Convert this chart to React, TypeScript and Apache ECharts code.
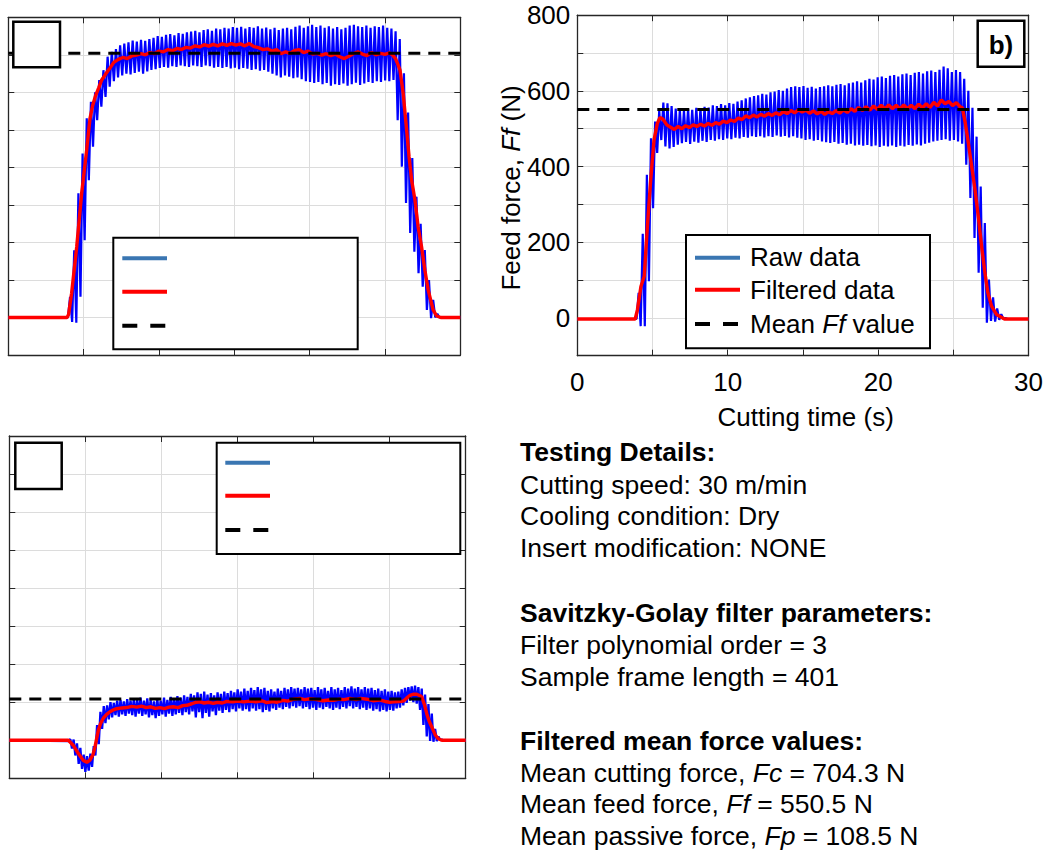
import React, { useEffect, useRef } from 'react';
import * as echarts from 'echarts';

const FONT = '"Liberation Sans", Arial, Helvetica, sans-serif';

// ---------------- Panel a: cutting force Fc ----------------
const fcMean = 704.3;
const fcRawStart = 3.96;
const fcRawPeriod = 0.277;
const fcRawBase = 0;
const fcRawLow = [
  0, -12, -14, 55, 206, 366, 455, 526, 562, 588,
  615, 630, 640, 645, 650, 648, 652, 655, 650, 656,
  660, 662, 665, 668, 666, 670, 668, 672, 670, 668,
  672, 670, 668, 672, 670, 666, 668, 665, 668, 664,
  666, 662, 665, 663, 660, 662, 658, 660, 655, 650,
  645, 640, 645, 642, 638, 640, 635, 630, 628, 625,
  628, 622, 625, 618, 622, 620, 624, 618, 622, 626,
  620, 624, 628, 625, 630, 628, 632, 630, 633, 526,
  402, 305, 225, 175, 118, 82, 20, -2, 0,
];
const fcRawHigh = [
  55, 179, 331, 437, 531, 575, 600, 633, 659, 695,
  708, 715, 725, 730, 733, 738, 735, 740, 737, 742,
  745, 750, 748, 753, 755, 752, 758, 756, 760, 762,
  764, 760, 766, 768, 764, 770, 768, 772, 770, 774,
  772, 775, 770, 774, 772, 776, 770, 773, 768, 772,
  766, 770, 772, 768, 775, 778, 772, 776, 780, 774,
  778, 772, 776, 770, 774, 768, 772, 778, 780, 776,
  774, 778, 772, 776, 774, 778, 772, 770, 763, 742,
  651, 546, 425, 322, 250, 180, 100, 47, 10,
];
const fcFiltered = [
  [0, 0], [3.9, 0], [4.0, 8], [4.2, 64], [4.54, 188], [4.87, 331], [5.2, 446], [5.42, 530],
  [5.6, 565], [5.8, 592], [6.0, 612], [6.2, 633], [6.45, 648], [6.7, 662], [7.0, 680], [7.3, 688],
  [7.6, 693], [7.9, 690], [8.2, 697], [8.5, 699], [8.8, 703], [9.1, 700], [9.4, 706], [9.7, 703],
  [10.0, 710], [10.3, 708], [10.6, 714], [10.9, 711], [11.2, 717], [11.5, 714], [11.8, 720],
  [12.1, 718], [12.4, 724], [12.7, 721], [13.0, 727], [13.3, 723], [13.6, 728], [13.9, 724],
  [14.2, 729], [14.5, 725], [14.8, 730], [15.1, 726], [15.4, 729], [15.7, 724], [16.0, 730],
  [16.3, 722], [16.6, 719], [16.9, 714], [17.2, 716], [17.5, 710], [17.8, 714], [18.1, 703],
  [18.4, 708], [18.7, 704], [19.0, 712], [19.3, 714], [19.6, 706], [19.9, 710], [20.2, 702],
  [20.5, 704], [20.8, 699], [21.1, 703], [21.4, 698], [21.7, 702], [22.0, 695], [22.3, 690],
  [22.6, 696], [22.9, 703], [23.2, 708], [23.5, 702], [23.8, 698], [24.1, 706], [24.4, 700],
  [24.7, 704], [25.0, 701], [25.3, 705], [25.5, 700], [25.7, 690], [25.85, 675], [26.0, 659],
  [26.21, 597], [26.44, 499], [26.6, 428], [26.77, 366], [26.99, 313], [27.2, 242], [27.43, 188],
  [27.65, 126], [27.87, 73], [28.2, 20], [28.43, 4], [28.7, 0], [30, 0],
];

// ---------------- Panel b: feed force Ff ----------------
const ffMean = 550.5;
const ffRawStart = 3.94;
const ffRawPeriod = 0.274;
const ffRawBase = -3;
const ffRawLow = [
  -3, -22, -22, 97, 290, 436, 470, 453, 448, 452,
  458, 462, 465, 460, 466, 463, 468, 465, 470, 468,
  472, 470, 474, 472, 476, 474, 478, 476, 480, 478,
  480, 477, 480, 478, 482, 479, 481, 477, 480, 476,
  474, 470, 472, 468, 470, 466, 464, 462, 465, 460,
  462, 458, 460, 456, 458, 455, 457, 454, 456, 452,
  455, 453, 456, 452, 455, 453, 457, 455, 458, 456,
  460, 463, 466, 468, 470, 472, 468, 470, 466, 460,
  405, 317, 211, 119, 27, -13, -8, -10, -5, -3,
];
const ffRawHigh = [
  66, 222, 378, 475, 519, 548, 569, 567, 560, 553,
  550, 548, 552, 550, 555, 553, 558, 556, 562, 560,
  565, 562, 568, 566, 572, 575, 580, 583, 586, 588,
  592, 590, 596, 598, 602, 600, 606, 610, 612, 610,
  613, 608, 611, 606, 610, 612, 615, 612, 616, 618,
  615, 620, 622, 625, 622, 628, 632, 630, 636, 638,
  634, 640, 642, 638, 644, 646, 642, 648, 650, 646,
  652, 654, 650, 656, 664, 660, 650, 655, 650, 632,
  600, 555, 479, 347, 251, 101, 54, 25, 10, 0,
];
const ffFiltered = [
  [0, -3], [3.85, -3], [4.0, 22], [4.23, 83], [4.45, 110], [4.66, 242], [4.88, 365], [5.1, 470],
  [5.32, 514], [5.5, 530], [5.7, 525], [5.95, 510], [6.2, 504], [6.45, 498], [6.7, 506], [6.95, 500],
  [7.2, 508], [7.45, 503], [7.7, 510], [7.95, 506], [8.2, 512], [8.45, 507], [8.7, 514], [8.95, 509],
  [9.2, 516], [9.45, 512], [9.7, 520], [9.95, 516], [10.2, 523], [10.45, 519], [10.7, 528],
  [10.95, 524], [11.2, 534], [11.45, 529], [11.7, 536], [11.95, 531], [12.2, 538], [12.45, 533],
  [12.7, 540], [12.95, 535], [13.2, 542], [13.45, 537], [13.7, 545], [13.95, 540], [14.2, 548],
  [14.45, 542], [14.7, 550], [14.95, 544], [15.2, 549], [15.45, 541], [15.7, 547], [15.95, 539],
  [16.2, 546], [16.45, 538], [16.7, 545], [16.95, 540], [17.2, 548], [17.45, 541], [17.7, 550],
  [17.95, 543], [18.2, 553], [18.45, 546], [18.7, 556], [18.95, 548], [19.2, 558], [19.45, 549],
  [19.7, 560], [19.95, 551], [20.2, 562], [20.45, 552], [20.7, 563], [20.95, 553], [21.2, 562],
  [21.45, 552], [21.7, 563], [21.95, 553], [22.2, 562], [22.45, 553], [22.7, 565], [22.95, 555],
  [23.2, 566], [23.45, 556], [23.7, 570], [23.95, 560], [24.2, 576], [24.45, 566], [24.7, 572],
  [24.95, 561], [25.2, 569], [25.45, 558], [25.6, 555], [25.8, 514], [26.0, 462], [26.22, 400],
  [26.44, 339], [26.66, 268], [26.88, 189], [27.1, 119], [27.3, 66], [27.54, 31], [27.87, 9],
  [28.4, -3], [30, -3],
];

// ---------------- Panel c: passive force Fp ----------------
const fpMean = 108.5;
const fpRawStart = 3.9;
const fpRawPeriod = 0.22;
const fpRawBase = 0;
const fpRawLow = [
  -2, -22, -40, -62, -75, -83, -80, -70, -40, -10,
  30, 45, 55, 60, 66, 62, 68, 64, 70, 66,
  62, 70, 64, 68, 60, 66, 58, 64, 68, 62,
  70, 64, 68, 72, 66, 74, 68, 76, 60, 74,
  58, 72, 62, 76, 66, 78, 72, 80, 74, 82,
  76, 84, 78, 82, 76, 84, 78, 82, 74, 80,
  76, 84, 80, 86, 82, 88, 84, 90, 86, 90,
  84, 88, 82, 86, 80, 86, 82, 88, 84, 80,
  86, 82, 88, 84, 90, 84, 88, 82, 86, 80,
  84, 78, 82, 76, 80, 76, 80, 78, 84, 86,
  92, 98, 104, 100, 96, 80, 40, 10, -2, -4,
  -2, 0,
];
const fpRawHigh = [
  3, 2, -8, -20, -38, -42, -35, -15, 40, 75,
  90, 92, 100, 98, 104, 106, 102, 108, 104, 110,
  106, 112, 104, 110, 106, 102, 108, 104, 112, 106,
  114, 110, 116, 112, 118, 114, 122, 118, 126, 122,
  128, 120, 124, 118, 126, 122, 128, 124, 130, 126,
  134, 128, 136, 130, 138, 132, 140, 134, 138, 130,
  134, 128, 136, 130, 138, 134, 140, 136, 138, 134,
  140, 136, 138, 132, 140, 134, 138, 130, 140, 134,
  138, 132, 140, 136, 142, 136, 140, 134, 140, 136,
  138, 132, 136, 130, 134, 128, 130, 126, 128, 134,
  138, 140, 142, 144, 140, 136, 120, 95, 70, 30,
  10, 2,
];
const fpFiltered = [
  [0, 0], [3.88, 0], [4.2, -13], [4.54, -35], [4.87, -53], [5.1, -58], [5.3, -52], [5.5, -38],
  [5.63, -18], [5.85, 26], [6.0, 44], [6.18, 58], [6.4, 68], [6.62, 75], [6.85, 80], [7.06, 83],
  [7.4, 85], [7.72, 86], [8.05, 89], [8.38, 87], [8.7, 90], [9.0, 86], [9.3, 88], [9.6, 84],
  [9.9, 86], [10.2, 83], [10.5, 87], [10.78, 88], [11.1, 86], [11.4, 91], [11.66, 92], [12.0, 96],
  [12.3, 100], [12.54, 101], [12.8, 98], [13.1, 100], [13.41, 97], [13.7, 100], [14.0, 98],
  [14.3, 102], [14.7, 101], [15.0, 103], [15.4, 101], [15.83, 103], [16.2, 101], [16.6, 104],
  [16.92, 99], [17.3, 102], [17.6, 100], [18.0, 105], [18.3, 103], [18.7, 108], [19.1, 110],
  [19.4, 107], [19.8, 109], [20.2, 107], [20.6, 104], [21.0, 106], [21.3, 105], [21.7, 108],
  [22.0, 107], [22.4, 110], [22.8, 107], [23.1, 110], [23.5, 108], [23.9, 104], [24.3, 106],
  [24.7, 102], [25.0, 100], [25.25, 101], [25.6, 102], [25.9, 103], [26.1, 110], [26.34, 118],
  [26.55, 121], [26.78, 121], [27.0, 117], [27.11, 114], [27.3, 92], [27.44, 70], [27.6, 50],
  [27.77, 35], [28.0, 14], [28.2, 4], [28.43, 0], [30, 0],
];

// axis ranges / ticks
const xMin = 0;
const xMax = 30;
const xStep = 5;
const yMin = -100;
const yMax = 800;
const yStep = 100;

const AX = '#262626';
const GRID = '#dcdcdc';
const BLUE = '#0000ff';
const RED = '#ff0000';
const LEG_BLUE = '#3a76b2';

function rawPoints(start: number, period: number, lo: number[], hi: number[], base: number) {
  const pts: number[][] = [[xMin, base]];
  for (let i = 0; i < lo.length; i++) {
    pts.push([+(start + i * period).toFixed(3), lo[i]]);
    pts.push([+(start + i * period + period / 2).toFixed(3), hi[i]]);
  }
  pts.push([+(start + lo.length * period).toFixed(3), base]);
  pts.push([xMax, base]);
  return pts;
}

const grids = [
  { left: 8.3, top: 17.3, width: 452, height: 337.7 },
  { left: 577.3, top: 15.2, width: 456.7, height: 340.5 },
  { left: 9.3, top: 436, width: 456.4, height: 342.3 },
];

const tickStyle = { show: true, inside: true, length: 6, lineStyle: { color: AX, width: 1 } };
const lineStyleAx = { show: true, onZero: false, lineStyle: { color: AX, width: 1.3 } };

function buildOption() {
  const xAxis: any[] = [];
  const yAxis: any[] = [];
  for (let i = 0; i < 3; i++) {
    xAxis.push({
      gridIndex: i, type: 'value', min: xMin, max: xMax, interval: xStep, position: 'bottom',
      axisLine: lineStyleAx, axisTick: tickStyle,
      splitLine: { show: true, lineStyle: { color: GRID, width: 1 } },
      axisLabel: i === 1
        ? { show: true, fontSize: 26, fontFamily: FONT, color: '#000', margin: 13,
            formatter: (v: number) => (v % 10 === 0 ? String(v) : '') }
        : { show: false },
    });
    yAxis.push({
      gridIndex: i, type: 'value', min: yMin, max: yMax, interval: yStep, position: 'left',
      axisLine: lineStyleAx, axisTick: tickStyle,
      splitLine: { show: true, lineStyle: { color: GRID, width: 1 } },
      axisLabel: i === 1
        ? { show: true, fontSize: 26, fontFamily: FONT, color: '#000', margin: 7,
            formatter: (v: number) => (v % 200 === 0 ? String(v) : '') }
        : { show: false },
    });
  }
  for (let i = 0; i < 3; i++) {
    xAxis.push({
      gridIndex: i, type: 'value', min: xMin, max: xMax, interval: xStep, position: 'top',
      axisLine: lineStyleAx, axisTick: tickStyle, splitLine: { show: false }, axisLabel: { show: false },
    });
    yAxis.push({
      gridIndex: i, type: 'value', min: yMin, max: yMax, interval: yStep, position: 'right',
      axisLine: lineStyleAx, axisTick: tickStyle, splitLine: { show: false }, axisLabel: { show: false },
    });
  }

  const panels = [
    { raw: rawPoints(fcRawStart, fcRawPeriod, fcRawLow, fcRawHigh, fcRawBase), filt: fcFiltered, mean: fcMean, rw: 2.2 },
    { raw: rawPoints(ffRawStart, ffRawPeriod, ffRawLow, ffRawHigh, ffRawBase), filt: ffFiltered, mean: ffMean, rw: 2.2 },
    { raw: rawPoints(fpRawStart, fpRawPeriod, fpRawLow, fpRawHigh, fpRawBase), filt: fpFiltered, mean: fpMean, rw: 2.3 },
  ];
  const series: any[] = [];
  panels.forEach((p, i) => {
    const common = { type: 'line', xAxisIndex: i, yAxisIndex: i, showSymbol: false, symbol: 'none', silent: true, clip: true };
    series.push({ ...common, name: 'Raw data', data: p.raw, lineStyle: { color: BLUE, width: p.rw }, z: 2 });
    series.push({ ...common, name: 'Filtered data', data: p.filt, lineStyle: { color: RED, width: 3.4 }, z: 3 });
    series.push({ ...common, name: 'Mean', data: [[xMin, p.mean], [xMax, p.mean]], lineStyle: { color: '#000', width: 3, type: [12, 8] }, z: 4 });
  });

  const mk = (size: number) => ({
    n: { fontSize: size, fontFamily: FONT, fill: '#000' },
    i: { fontSize: size, fontFamily: FONT, fill: '#000', fontStyle: 'italic' },
    b: { fontSize: size, fontFamily: FONT, fill: '#000', fontWeight: 'bold' },
  });
  const rich26 = mk(26);
  const richBlock = mk(26.5);

  const txt = (x: number, y: number, text: string, extra: any = {}, rich: any = rich26) => ({
    type: 'text', x, y, z: 110, silent: true, ...extra,
    style: { text, rich, textAlign: extra.align || 'left', align: extra.align || 'left', textVerticalAlign: 'middle', verticalAlign: 'middle', fill: '#000', font: `26px ${FONT}` },
  });
  const blk = (y: number, text: string) => txt(520, y, text, {}, richBlock);
  const rect = (x1: number, y1: number, x2: number, y2: number, lw = 2) => ({
    type: 'rect', z: 100, silent: true,
    shape: { x: x1, y: y1, width: x2 - x1, height: y2 - y1 },
    style: { fill: '#fff', stroke: '#000', lineWidth: lw },
  });
  const seg = (x1: number, x2: number, y: number, color: string, dash?: number[]) => ({
    type: 'line', z: 105, silent: true,
    shape: { x1, y1: y, x2, y2: y },
    style: { stroke: color, lineWidth: 4, lineDash: dash || null },
  });
  const legendLines = (x1: number, x2: number, ys: number[]) => [
    seg(x1, x2, ys[0], LEG_BLUE),
    seg(x1, x2, ys[1], RED),
    seg(x1, x2, ys[2], '#000', [15, 13]),
  ];

  const graphic: any[] = [
    // panel a
    rect(13.3, 21.7, 60, 67.3, 2.5),
    rect(113.3, 237.7, 357.7, 349.3),
    ...legendLines(122.3, 167, [258.3, 291.7, 325.7]),
    // panel b
    rect(977.7, 20.7, 1024.3, 66.7, 2.5),
    txt(1001, 44.5, '{b|b)}', { align: 'center' }),
    rect(686, 235, 930, 348.3),
    ...legendLines(695, 740, [257.7, 289.7, 324]),
    txt(750, 257, '{n|Raw data}'),
    txt(750, 290, '{n|Filtered data}'),
    txt(750, 323.5, '{n|Mean }{i|Ff}{n| value}'),
    txt(805.7, 417, '{n|Cutting time (s)}', { align: 'center' }),
    txt(511, 188, '{n|Feed force, }{i|Ff}{n| (N)}', { align: 'center', rotation: Math.PI / 2 }),
    // panel c
    rect(15.3, 442.7, 61.7, 489, 2.5),
    rect(216.7, 442.7, 460.3, 554),
    ...legendLines(225.3, 270, [462.7, 495.7, 530]),
    // text block
    blk(452, '{b|Testing Details:}'),
    blk(484.5, '{n|Cutting speed: 30 m/min}'),
    blk(516, '{n|Cooling condition: Dry}'),
    blk(547.5, '{n|Insert modification: NONE}'),
    blk(612.5, '{b|Savitzky-Golay filter parameters:}'),
    blk(644.5, '{n|Filter polynomial order = 3}'),
    blk(676.5, '{n|Sample frame length = 401}'),
    blk(740.5, '{b|Filtered mean force values:}'),
    blk(772.5, `{n|Mean cutting force, }{i|Fc}{n| = ${fcMean.toFixed(1)} N}`),
    blk(804, `{n|Mean feed force, }{i|Ff}{n| = ${ffMean.toFixed(1)} N}`),
    blk(835.5, `{n|Mean passive force, }{i|Fp}{n| = ${fpMean.toFixed(1)} N}`),
  ];

  return {
    animation: false,
    backgroundColor: '#ffffff',
    grid: grids.map((g) => ({ ...g, containLabel: false })),
    xAxis,
    yAxis,
    series,
    graphic: { elements: graphic },
  };
}

export default function App() {
  const ref = useRef<HTMLDivElement>(null);
  useEffect(() => {
    if (!ref.current) return;
    const chart = echarts.init(ref.current, null, { renderer: 'svg' });
    chart.setOption(buildOption() as any);
    return () => chart.dispose();
  }, []);
  return (
    <div
      ref={ref}
      style={{ position: 'absolute', left: 0, top: 0, width: 1046, height: 850, background: '#fff' }}
    />
  );
}
